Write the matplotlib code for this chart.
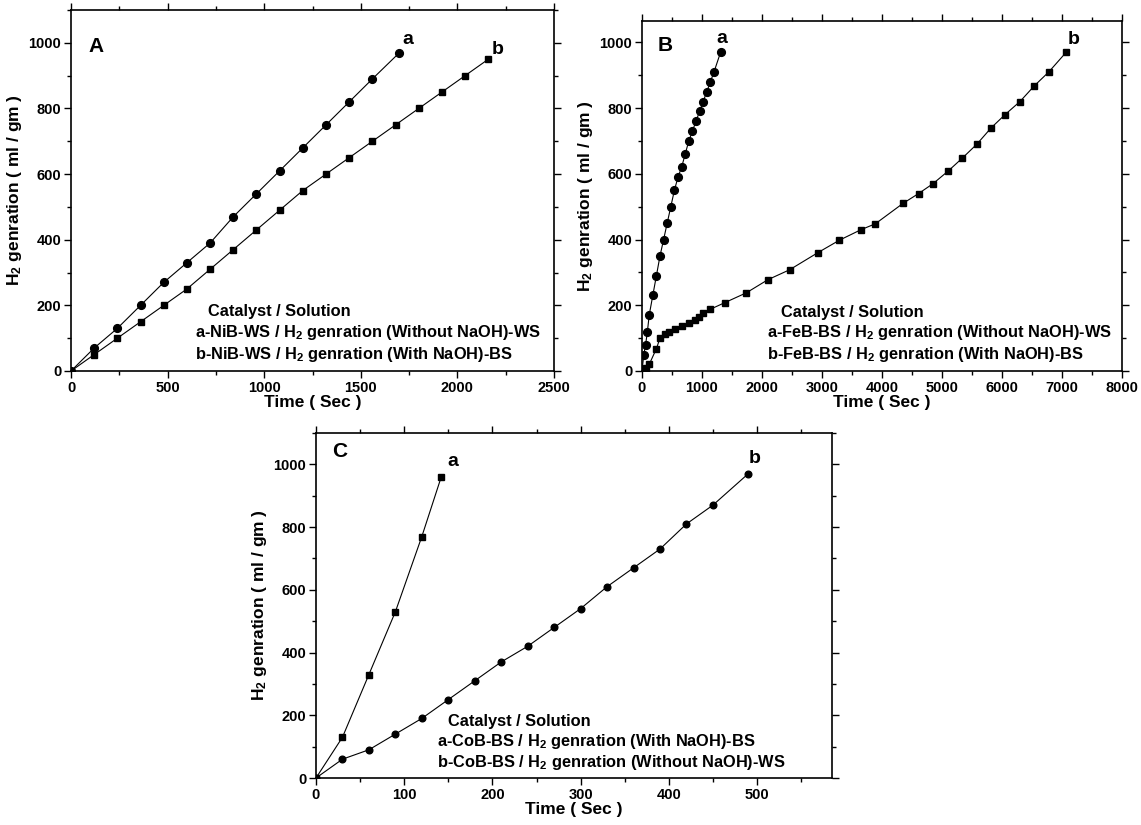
import matplotlib
matplotlib.use("Agg")
import matplotlib.pyplot as plt
from matplotlib.ticker import MultipleLocator

plt.rcParams['font.family'] = ['Liberation Sans', 'DejaVu Sans']
plt.rcParams['font.weight'] = 'bold'
plt.rcParams['axes.labelweight'] = 'bold'
plt.rcParams['mathtext.default'] = 'regular'

# Panel A: NiB catalyst
nib_ws_t = [0, 120, 240, 360, 480, 600, 720, 840, 960, 1080, 1200, 1320, 1440, 1560, 1700]
nib_ws_h2 = [0, 70, 130, 200, 270, 330, 390, 470, 540, 610, 680, 750, 820, 890, 970]
nib_bs_t = [0, 120, 240, 360, 480, 600, 720, 840, 960, 1080, 1200, 1320, 1440, 1560,
            1680, 1800, 1920, 2040, 2160]
nib_bs_h2 = [0, 50, 100, 150, 200, 250, 310, 370, 430, 490, 550, 600, 650, 700,
             750, 800, 850, 900, 950]

# Panel B: FeB catalyst
feb_ws_t = [0, 30, 60, 90, 120, 180, 240, 300, 360, 420, 480, 540, 600, 660, 720,
            780, 840, 900, 960, 1020, 1080, 1140, 1200, 1310]
feb_ws_h2 = [0, 50, 80, 120, 170, 230, 290, 350, 400, 450, 500, 550, 590, 620, 660,
             700, 730, 760, 790, 820, 850, 880, 910, 970]
feb_bs_t = [0, 60, 120, 240, 300, 380, 450, 550, 660, 780, 890, 950, 1020, 1140,
            1380, 1740, 2100, 2460, 2930, 3290, 3650, 3890, 4350, 4610, 4850, 5100,
            5340, 5580, 5820, 6050, 6300, 6540, 6780, 7070]
feb_bs_h2 = [0, 8, 20, 68, 100, 113, 118, 128, 137, 145, 155, 165, 175, 188,
             208, 238, 278, 308, 360, 398, 430, 448, 510, 540, 570, 608,
             648, 690, 740, 780, 820, 868, 910, 970]

# Panel C: CoB catalyst
cob_bs_t = [0, 30, 60, 90, 120, 142]
cob_bs_h2 = [0, 130, 330, 530, 770, 960]
cob_ws_t = [0, 30, 60, 90, 120, 150, 180, 210, 240, 270, 300, 330, 360, 390, 420, 450, 490]
cob_ws_h2 = [0, 60, 90, 140, 190, 250, 310, 370, 420, 480, 540, 610, 670, 730, 810, 870, 970]

legend_a = ['Catalyst / Solution',
            'a-NiB-WS / H$_2$ genration (Without NaOH)-WS',
            'b-NiB-WS / H$_2$ genration (With NaOH)-BS']
legend_b = ['Catalyst / Solution',
            'a-FeB-BS / H$_2$ genration (Without NaOH)-WS',
            'b-FeB-BS / H$_2$ genration (With NaOH)-BS']
legend_c = ['Catalyst / Solution',
            'a-CoB-BS / H$_2$ genration (With NaOH)-BS',
            'b-CoB-BS / H$_2$ genration (Without NaOH)-WS']

W, H = 1141, 825
fig = plt.figure(figsize=(W / 100, H / 100), dpi=100)


def box(l, t, r, b):
    return [l / W, 1 - b / H, (r - l) / W, (b - t) / H]


def style(ax, xmax, xmaj, ymax):
    ax.set_xlim(0, xmax)
    ax.set_ylim(0, ymax)
    ax.xaxis.set_major_locator(MultipleLocator(xmaj))
    ax.xaxis.set_minor_locator(MultipleLocator(xmaj / 2))
    ax.yaxis.set_major_locator(MultipleLocator(200))
    ax.yaxis.set_minor_locator(MultipleLocator(100))
    ax.tick_params(which='both', direction='out', labelsize=10.5, width=1,
                   top=True, right=True)
    ax.tick_params(which='major', length=5, pad=2)
    ax.tick_params(which='minor', length=3)
    for s in ax.spines.values():
        s.set_linewidth(1.2)
    ax.set_xlabel('Time ( Sec )', fontsize=12.5, labelpad=0)
    ax.set_ylabel('H$_2$ genration ( ml / gm )', fontsize=12.5, labelpad=3)


def notes(ax, lines, x1, x2, ys):
    ax.text(x1, ys[0], lines[0], fontsize=11.8, va='center', ha='left')
    ax.text(x2, ys[1], lines[1], fontsize=11.8, va='center', ha='left')
    ax.text(x2, ys[2], lines[2], fontsize=11.8, va='center', ha='left')


line_kw = dict(color='black', lw=0.8, mec='black', mfc='black')

# A
axA = fig.add_axes(box(71, 10, 554, 371))
axA.plot(nib_ws_t, nib_ws_h2, marker='o', ms=5.6, **line_kw)
axA.plot(nib_bs_t, nib_bs_h2, marker='s', ms=5.0, **line_kw)
style(axA, 2500, 500, 1100)
axA.text(90, 990, 'A', fontsize=15, va='center', ha='left')
axA.text(1744, 1010, 'a', fontsize=14, va='center', ha='center')
axA.text(2210, 980, 'b', fontsize=14, va='center', ha='center')
notes(axA, legend_a, 710, 640, [181, 116, 50])

# B
axB = fig.add_axes(box(642, 21, 1122, 371))
axB.plot(feb_ws_t, feb_ws_h2, marker='o', ms=5.6, **line_kw)
axB.plot(feb_bs_t, feb_bs_h2, marker='s', ms=5.0, **line_kw)
style(axB, 8000, 1000, 1065)
axB.text(260, 990, 'B', fontsize=15, va='center', ha='left')
axB.text(1330, 1012, 'a', fontsize=14, va='center', ha='center')
axB.text(7190, 1010, 'b', fontsize=14, va='center', ha='center')
notes(axB, legend_b, 2320, 2080, [179, 116, 50])

# C
axC = fig.add_axes(box(316, 433, 832, 778))
axC.plot(cob_bs_t, cob_bs_h2, marker='s', ms=4.6, **line_kw)
axC.plot(cob_ws_t, cob_ws_h2, marker='o', ms=4.8, **line_kw)
style(axC, 585, 100, 1100)
axC.xaxis.set_minor_locator(MultipleLocator(50))
axC.text(18, 1040, 'C', fontsize=15, va='center', ha='left')
axC.text(155, 1010, 'a', fontsize=14, va='center', ha='center')
axC.text(497, 1020, 'b', fontsize=14, va='center', ha='center')
notes(axC, legend_c, 150, 137, [180, 115, 50])

fig.savefig('out.png', dpi=100)
